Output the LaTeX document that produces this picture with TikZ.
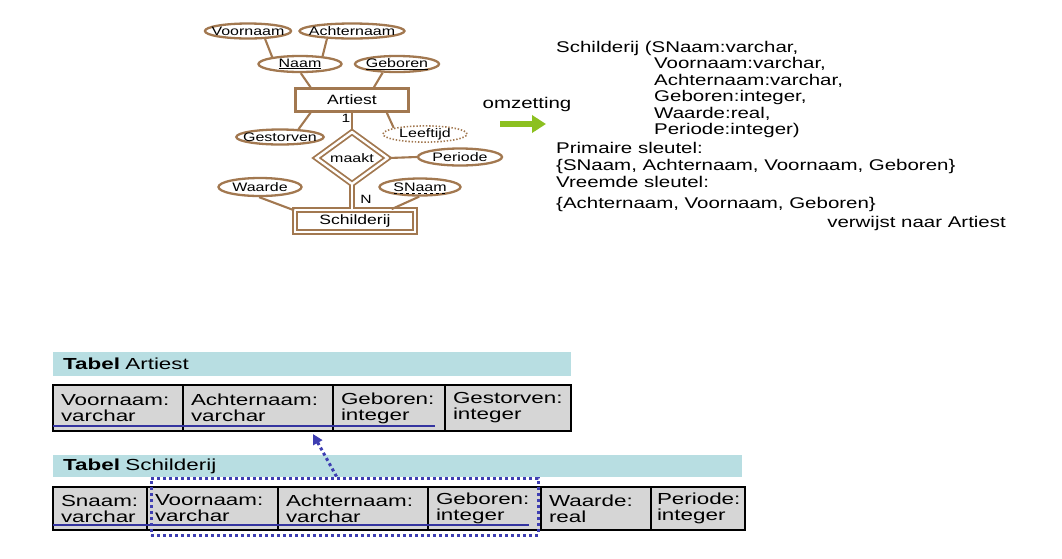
\documentclass[tikz,border=0pt]{standalone}
\usepackage{fontspec}
\setmainfont{Liberation Sans}
\newfontfamily\erfont[FakeStretch=1.3]{Liberation Sans}
\newfontfamily\relfont[FakeStretch=1.32]{Liberation Sans}
\newfontfamily\tabfont[FakeStretch=1.4]{Liberation Sans}
\usetikzlibrary{arrows.meta,shapes.geometric,positioning,fit}

\definecolor{erbrown}{RGB}{162,120,80}
\definecolor{keyblue}{RGB}{52,52,160}
\definecolor{fkblue}{RGB}{62,62,178}
\definecolor{bandteal}{RGB}{184,222,226}
\definecolor{cellgray}{RGB}{214,214,214}
\definecolor{omzgreen}{RGB}{140,192,32}

\tikzset{
  attr/.style={ellipse, draw=erbrown, line width=2.3pt, inner xsep=-6pt, inner ysep=0pt,
    font=\erfont\fontsize{12.3}{14}\selectfont},
  entity/.style={rectangle, draw=erbrown, line width=2.3pt, inner sep=0pt,
    font=\erfont\fontsize{13.5}{15}\selectfont},
  weak/.style={entity, line width=1.8pt, double=white, double distance=2.4pt},
  relation/.style={diamond, draw=erbrown, line width=1.8pt, double=white, double distance=2.4pt,
    inner sep=0pt, font=\erfont\fontsize{12.3}{14}\selectfont},
  erline/.style={draw=erbrown, line width=2.1pt},
  erdouble/.style={draw=erbrown, line width=1.8pt, double=white, double distance=2.4pt},
  card/.style={inner sep=0pt, font=\erfont\fontsize{12}{14}\selectfont},
  reltext/.style={anchor=base west, inner sep=0pt, font=\relfont\fontsize{15.5}{17}\selectfont},
  omzarrow/.style={draw=omzgreen, line width=6pt, -{Triangle[length=14pt,width=17pt]}},
  band/.style={fill=bandteal, anchor=north west, inner xsep=10pt, align=left,
    font=\tabfont\fontsize{16}{17}\selectfont},
  cell/.style={draw=black, line width=1.5pt, fill=cellgray, anchor=north west, align=left,
    inner xsep=8pt, inner ysep=0pt, outer sep=0pt, minimum height=#1,
    font=\tabfont\fontsize{16}{16}\selectfont},
  cell/.default=46pt,
  keyline/.style={draw=keyblue, line width=2.6pt},
  fkbox/.style={draw=fkblue, line width=3pt, dash pattern=on 3pt off 3pt, inner sep=0pt},
  fkarrow/.style={draw=fkblue, line width=3pt, dash pattern=on 3pt off 3pt,
    -{Triangle[length=10pt,width=10pt]}}
}

\begin{document}
\begin{tikzpicture}[x=1pt,y=-1pt]
\useasboundingbox (0,0) rectangle (1062,558);

  % Attributes of Artiest
  \node[attr, minimum width=85pt, minimum height=15pt] (voornaam) at (248,31) {Voornaam};
  \node[attr, minimum width=99pt, minimum height=15pt] (achternaam) at (352,31) {Achternaam};
  \node[attr, minimum width=83pt, minimum height=16pt] (naam) at (300,64) {\underline{Naam}};
  \node[attr, minimum width=84pt, minimum height=16pt] (geboren) at (397,64) {\underline{Geboren}};
  \node[attr, minimum width=79pt, minimum height=15pt] (gestorven) at (280,137) {Gestorven};
  \node[attr, minimum width=84pt, minimum height=16pt, line width=1.6pt, dash pattern=on 1.4pt off 1.8pt] (leeftijd) at (425,134) {Leeftijd};

  % Entities and relation
  \node[entity, minimum width=113pt, minimum height=23pt] (artiest) at (352,100) {Artiest};
  \node[relation, minimum width=72pt, minimum height=49pt] (maakt) at (352,158) {maakt};
  \node[weak, minimum width=120pt, minimum height=22pt] (schilderij) at (355,221) {Schilderij};

  % Attributes of Schilderij and maakt
  \node[attr, minimum width=84pt, minimum height=17pt] (periode) at (460,157) {Periode};
  \node[attr, minimum width=83pt, minimum height=18pt] (waarde) at (260,187) {Waarde};
  \node[attr, minimum width=81pt, minimum height=17pt] (snaam) at (420,187) {SNaam};
  \draw[dashed, line width=0.6pt] ([xshift=-26pt,yshift=-6pt]snaam.center) -- ([xshift=26pt,yshift=-6pt]snaam.center);

  % Connectors
  \draw[erline] (voornaam.-25) -- (naam.166);
  \draw[erline] (achternaam.197) -- (naam.19);
  \draw[erline] (naam.-85) -- (artiest.163);
  \draw[erline] (geboren.-149) -- (artiest.30);
  \draw[erline] (artiest.-163) -- (gestorven.23);
  \draw[erline] (artiest.-20) -- (leeftijd.169);
  \draw[erline] (artiest.south) -- (maakt.north);
  \draw[erdouble] (maakt.south) -- (maakt.south |- schilderij.north);
  \draw[erline] (maakt.east) -- (periode.west);
  \draw[erline] (waarde.-95) -- (schilderij.170);
  \draw[erline] (snaam.-95) -- (schilderij.18);

  % Cardinalities
  \node[card] (one) at (346,118) {1};
  \node[card] (many) at (366,199) {N};

  % omzetting
  \node[reltext, anchor=center] (omz) at (527,104) {omzetting};
  \coordinate (omzfrom) at (500,124);
  \coordinate (omzto) at (546,124);
  \draw[omzarrow] (omzfrom) -- (omzto);

  % Relational schema
  \node[reltext] (rel1) at (556,52) {Schilderij (SNaam:varchar,};
  \node[reltext] (rel2) at (654,68.5) {Voornaam:varchar,};
  \node[reltext] (rel3) at (654,85) {Achternaam:varchar,};
  \node[reltext] (rel4) at (654,101.5) {Geboren:integer,};
  \node[reltext] (rel5) at (654,118) {Waarde:real,};
  \node[reltext] (rel6) at (654,134.5) {Periode:integer)};
  \node[reltext] (pk1) at (556,153) {Primaire sleutel:};
  \node[reltext] (pk2) at (556,170) {\{SNaam, Achternaam, Voornaam, Geboren\}};
  \node[reltext] (fk1) at (556,187) {Vreemde sleutel:};
  \node[reltext] (fk2) at (556,208) {\{Achternaam, Voornaam, Geboren\}};
  \node[reltext, anchor=base east] (fk3) at (1006,227) {verwijst naar Artiest};

  % Tabel Artiest
  \node[band, minimum height=24pt, text width=498pt] (artband) at (53,352) {\textbf{Tabel} Artiest};
  \node[cell, text width=114pt] (av) at (53,385) {Voornaam:\\varchar};
  \node[cell, text width=134pt, right=0pt of av] (aa) {Achternaam:\\varchar};
  \node[cell, text width=96pt, right=0pt of aa] (ag) {Geboren:\\integer};
  \node[cell, text width=110pt, right=0pt of ag] (ad) {Gestorven:\\integer};
  \draw[keyline] ([yshift=5pt]av.south west) -- ([xshift=-10pt,yshift=5pt]ag.south east);

  % Tabel Schilderij
  \node[band, minimum height=21pt, text width=669pt] (schband) at (53,455) {\textbf{Tabel} Schilderij};
  \node[cell=43pt, text width=78pt] (ss) at (53,487) {Snaam:\\varchar};
  \node[cell=43pt, text width=115pt, right=0pt of ss] (sv) {Voornaam:\\varchar};
  \node[cell=43pt, text width=134pt, right=0pt of sv] (sa) {Achternaam:\\varchar};
  \node[cell=43pt, text width=97pt, right=0pt of sa] (sg) {Geboren:\\integer};
  \node[cell=43pt, text width=94pt, right=0pt of sg] (sw) {Waarde:\\real};
  \node[cell=43pt, text width=82pt, inner xsep=6pt, right=0pt of sw] (sp) {Periode:\\integer};
  \draw[keyline] ([yshift=5pt]ss.south west) -- ([xshift=-12pt,yshift=5pt]sg.south east);

  % Foreign key
  \node[fkbox, fit={([xshift=4pt,yshift=9pt]sv.north west) ([xshift=-3pt,yshift=-5pt]sg.south east)}] (fk) {};
  \draw[fkarrow] ([xshift=-8pt]fk.north) -- ([xshift=55pt,yshift=-3pt]aa.south);

\end{tikzpicture}
\end{document}
